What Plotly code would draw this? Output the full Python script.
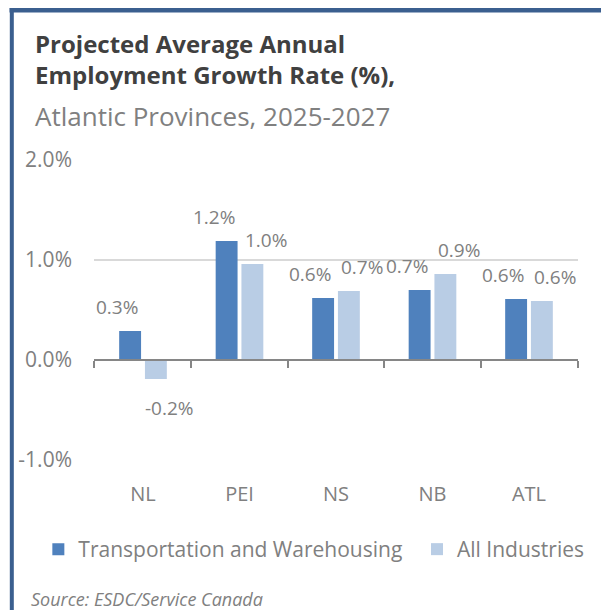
import plotly.graph_objects as go

categories = ["NL", "PEI", "NS", "NB", "ATL"]
transport = [0.29, 1.19, 0.62, 0.70, 0.61]
all_ind = [-0.19, 0.96, 0.69, 0.86, 0.59]
series_names = ["Transportation and Warehousing", "All Industries"]
ytick_vals = [-1, 0, 1, 2]
ytick_text = [f"{v:.1f}%" for v in ytick_vals]

DARK = "#4F81BD"
LIGHT = "#B9CDE5"
GRAY = "#808080"
FONT = "Open Sans"

W, H = 601, 610
L, R, T, B = 94, 20, 160, 150
PW, PH = W - L - R, H - T - B
YMIN, YMAX = -1, 2

def px_x(px):
    return (px - L) / PW

def px_y(py):
    return (H - B - py) / PH

fig = go.Figure()
fig.add_trace(go.Bar(x=categories, y=transport, name=series_names[0], legend="legend",
                     marker=dict(color=DARK, line=dict(width=0))))
fig.add_trace(go.Bar(x=categories, y=all_ind, name=series_names[1], legend="legend2",
                     marker=dict(color=LIGHT, line=dict(width=0))))
# invisible helper trace so the zero-line axis (category boundaries) is drawn
fig.add_trace(go.Scatter(x=list(range(len(categories))), y=[0] * len(categories),
                         xaxis="x2", yaxis="y", mode="lines",
                         line=dict(width=0, color="rgba(0,0,0,0)"),
                         showlegend=False, hoverinfo="skip"))

annotations = []
for vals, xs in ((transport, -26), (all_ind, 26)):
    for c, v in zip(categories, vals):
        annotations.append(dict(
            x=c, y=v, xref="x", yref="y", text=f"{v:.1f}%", showarrow=False,
            xshift=xs, yshift=24 if v >= 0 else -29, yanchor="middle",
            font=dict(family=FONT, size=19, color=GRAY)))

# titles
annotations += [
    dict(x=px_x(33), y=px_y(44), xref="paper", yref="paper", xanchor="left", yanchor="middle",
         text="<b>Projected Average Annual</b>", showarrow=False,
         font=dict(family=FONT, size=24, color="#404040")),
    dict(x=px_x(33), y=px_y(75), xref="paper", yref="paper", xanchor="left", yanchor="middle",
         text="<b>Employment Growth Rate (%),</b>", showarrow=False,
         font=dict(family=FONT, size=24, color="#404040")),
    dict(x=px_x(33), y=px_y(116), xref="paper", yref="paper", xanchor="left", yanchor="middle",
         text="Atlantic Provinces, 2025-2027", showarrow=False,
         font=dict(family=FONT, size=26, color=GRAY)),
    dict(x=px_x(29), y=px_y(599), xref="paper", yref="paper", xanchor="left", yanchor="middle",
         text="<i>Source: ESDC/Service Canada</i>", showarrow=False,
         font=dict(family=FONT, size=18, color=GRAY)),
]

shapes = [
    dict(type="line", xref="paper", yref="paper", x0=px_x(9), x1=px_x(610),
         y0=px_y(10.3), y1=px_y(10.3), line=dict(color="#3B5F8F", width=4.5)),
    dict(type="line", xref="paper", yref="paper", x0=px_x(11.3), x1=px_x(11.3),
         y0=px_y(8), y1=px_y(620), line=dict(color="#3B5F8F", width=4)),
]

zero_pos = (0 - YMIN) / (YMAX - YMIN)
legend_common = dict(orientation="h", yanchor="middle", xanchor="left",
                     font=dict(family=FONT, size=21, color=GRAY),
                     bgcolor="rgba(0,0,0,0)")

fig.update_layout(
    width=W, height=H, autosize=False,
    margin=dict(l=L, r=R, t=T, b=B, pad=0),
    paper_bgcolor="white", plot_bgcolor="white",
    barmode="group", bargap=0.466, bargroupgap=0.15,
    font=dict(family=FONT, color=GRAY),
    showlegend=True,
    legend=dict(x=px_x(38), y=px_y(549.5), **legend_common),
    legend2=dict(x=px_x(419), y=px_y(549.5), **legend_common),
    xaxis=dict(type="category", showgrid=False, showline=False, ticks="",
               tickfont=dict(family=FONT, size=20, color=GRAY), ticklabelstandoff=20,
               zeroline=False),
    xaxis2=dict(overlaying="x", anchor="free", position=zero_pos, range=[-0.5, 4.5],
                tickvals=[-0.5, 0.5, 1.5, 2.5, 3.5, 4.5], ticks="outside", ticklen=7,
                tickwidth=2, tickcolor="#868686", showline=True, linecolor="#868686",
                linewidth=2, showticklabels=False, showgrid=False, zeroline=False),
    yaxis=dict(range=[YMIN, YMAX], tickvals=ytick_vals, ticktext=ytick_text,
               showgrid=True, gridcolor="#D9D9D9", gridwidth=1.5, zeroline=False,
               showline=False, ticks="", ticklabelstandoff=21,
               tickfont=dict(family=FONT, size=21, color=GRAY)),
    annotations=annotations,
    shapes=shapes,
)

fig.write_html("out.html")
